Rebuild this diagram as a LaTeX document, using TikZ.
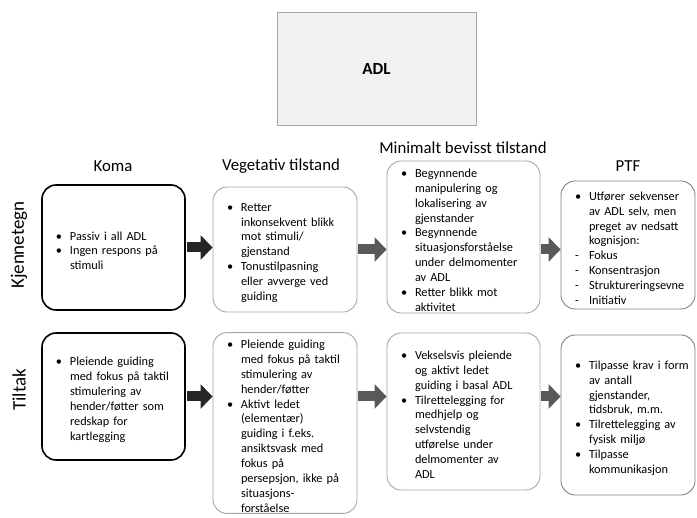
\documentclass[tikz,border=0pt]{standalone}
\usepackage{fontspec}
\setmainfont{Carlito}
\usetikzlibrary{arrows.meta,positioning}
\definecolor{boxline}{HTML}{A6A6A6}
\definecolor{ptfline}{HTML}{808080}
\definecolor{adlfill}{HTML}{F1F1F1}
\definecolor{arrowdark}{HTML}{262626}
\definecolor{arrowgray}{HTML}{595959}
% bullet and dash lines with hanging indent
\newcommand{\bul}[1]{\par\parskip=0pt\hangindent=23pt\hangafter=1\noindent\makebox[23pt][l]{\hspace{9pt}\textbullet}#1\par}
\newcommand{\dsh}[1]{\par\parskip=0pt\hangindent=23pt\hangafter=1\noindent\makebox[23pt][l]{\hspace{9pt}-}#1\par}

\begin{document}
\begin{tikzpicture}[x=1pt,y=-1pt,
  hardbox/.style={draw=black,line width=1.6pt,rounded corners=14pt,align=left,inner xsep=5pt,inner ysep=1pt,font=\fontsize{12.3}{14.9}\selectfont},
  softbox/.style={hardbox,draw=boxline,line width=0.9pt},
  head/.style={font=\fontsize{16.8}{20}\selectfont},
  rowlabel/.style={font=\fontsize{19}{22}\selectfont,rotate=90},
  blockarrow/.style={line width=10pt,-{Triangle[length=12pt,width=24pt]},shorten <=1pt},
]
  \useasboundingbox (0,0) rectangle (697,518);

  \node[draw=boxline,fill=adlfill,minimum width=199pt,minimum height=113pt,font=\bfseries\fontsize{17}{20}\selectfont] (adl) at (376.5,68.5) {ADL};

  % column heads
  \node[head] (hkoma) at (113,166) {Koma};
  \node[head] (hveg) at (281,166) {Vegetativ tilstand};
  \node[head] (hmin) at (463,148) {Minimalt bevisst tilstand};
  \node[head] (hptf) at (628,166) {PTF};

  % row labels
  \node[rowlabel] (lkjenn) at (19,245) {Kjennetegn};
  \node[rowlabel] (ltiltak) at (19,390) {Tiltak};

  % Kjennetegn
  \node[hardbox,text width=133pt,minimum height=125pt] (koma1) at (113.5,247.5)
    {\bul{Passiv i all ADL}\bul{Ingen respons på\newline stimuli}};
  \node[softbox,text width=134pt,minimum height=125pt] (veg1) at (285,249.5)
    {\bul{Retter\newline inkonsekvent blikk\newline mot stimuli/\newline gjenstand}\bul{Tonustilpasning\newline eller avverge ved\newline guiding}};
  \node[softbox,text width=143pt,minimum height=152pt] (min1) at (463.5,237)
    {\bul{Begynnende\newline manipulering og\newline lokalisering av\newline gjenstander}\bul{Begynnende\newline situasjonsforståelse\newline under delmomenter\newline av ADL}\bul{Retter blikk mot\newline aktivitet}};
  \node[softbox,draw=ptfline,text width=124pt,minimum height=128pt] (ptf1) at (628,245)
    {\bul{Utfører sekvenser\newline av ADL selv, men\newline preget av nedsatt\newline kognisjon:}\dsh{Fokus}\dsh{Konsentrasjon}\dsh{Struktureringsevne}\dsh{Initiativ}};

  % Tiltak
  \node[hardbox,text width=133pt,minimum height=127pt] (koma2) at (113.5,396.5)
    {\bul{Pleiende guiding\newline med fokus på taktil\newline stimulering av\newline hender/føtter som\newline redskap for\newline kartlegging}};
  \node[softbox,text width=134pt,minimum height=180pt] (veg2) at (285,423)
    {\bul{Pleiende guiding\newline med fokus på taktil\newline stimulering av\newline hender/føtter}\bul{Aktivt ledet\newline (elementær)\newline guiding i f.eks.\newline ansiktsvask med\newline fokus på\newline persepsjon, ikke på\newline situasjons-\newline forståelse}};
  \node[softbox,text width=143pt,minimum height=157pt] (min2) at (463.5,411.5)
    {\bul{Vekselsvis pleiende\newline og aktivt ledet\newline guiding i basal ADL}\bul{Tilrettelegging for\newline medhjelp og\newline selvstendig\newline utførelse under\newline delmomenter av\newline ADL}};
  \node[softbox,draw=ptfline,text width=124pt,minimum height=160pt] (ptf2) at (628,415)
    {\bul{Tilpasse krav i form\newline av antall\newline gjenstander,\newline tidsbruk, m.m.}\bul{Tilrettelegging av\newline fysisk miljø}\bul{Tilpasse\newline kommunikasjon}};

  % arrows
  \draw[blockarrow,arrowdark] (koma1.east) -- (koma1.east -| veg1.west);
  \draw[blockarrow,arrowgray] (veg1.east) -- (veg1.east -| min1.west);
  \draw[blockarrow,arrowgray] (min1.east |- veg1.east) -- (veg1.east -| ptf1.west);
  \draw[blockarrow,arrowdark] (koma2.east) -- (koma2.east -| veg2.west);
  \draw[blockarrow,arrowgray] (koma2.east -| veg2.east) -- (koma2.east -| min2.west);
  \draw[blockarrow,arrowgray] (koma2.east -| min2.east) -- (koma2.east -| ptf2.west);
\end{tikzpicture}
\end{document}
